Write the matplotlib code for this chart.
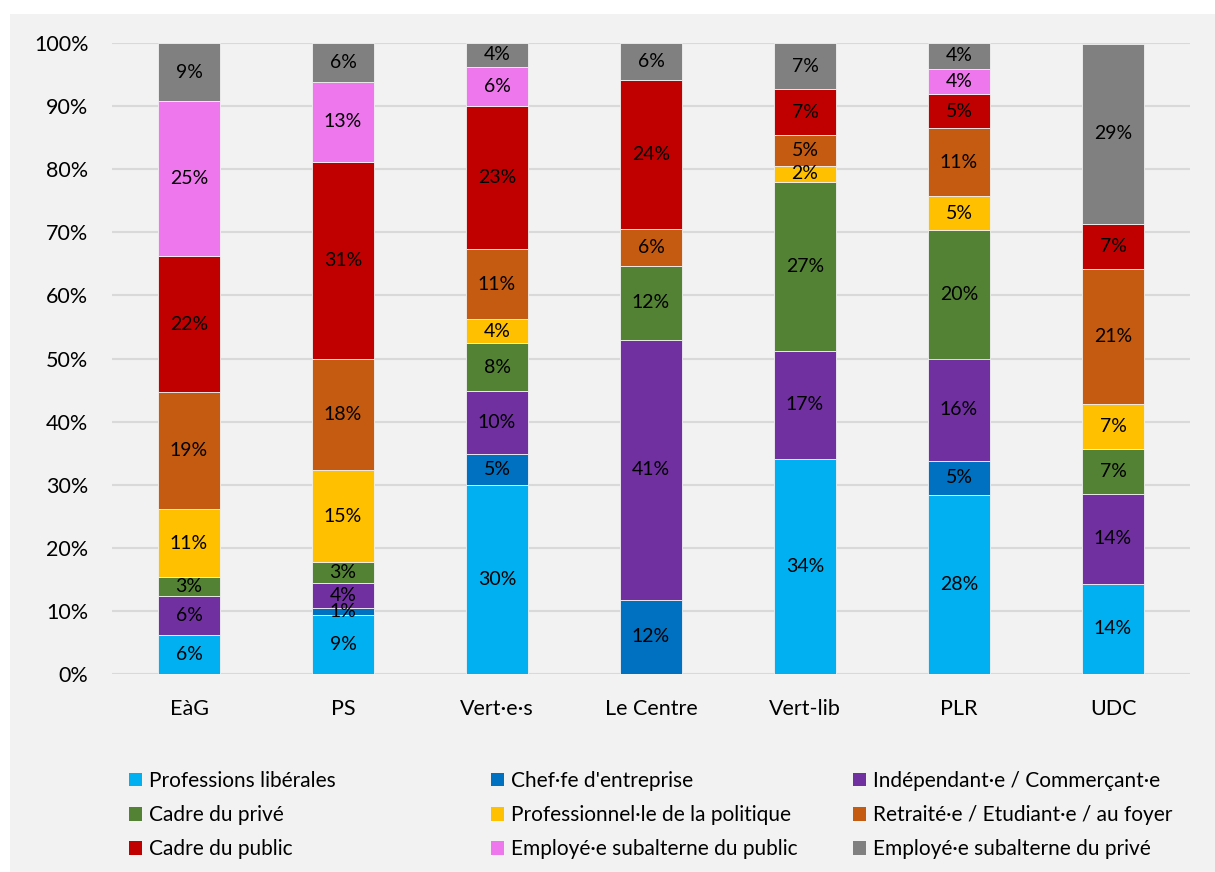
import numpy as np
import matplotlib.pyplot as plt
from matplotlib.patches import Rectangle, Patch

plt.rcParams['font.family'] = ['Lato', 'DejaVu Sans']

parties = ["EàG", "PS", "Vert·e·s", "Le Centre", "Vert-lib", "PLR", "UDC"]

categories = ["Professions libérales", "Chef·fe d'entreprise",
              "Indépendant·e / Commerçant·e", "Cadre du privé",
              "Professionnel·le de la politique",
              "Retraité·e / Etudiant·e / au foyer", "Cadre du public",
              "Employé·e subalterne du public", "Employé·e subalterne du privé"]

colors = ["#00B0F0", "#0070C0", "#7030A0", "#548235", "#FFC000",
          "#C55A11", "#C00000", "#EE77EE", "#808080"]

# share (%) per category, one value per party
prof_lib = [6.2, 9.4, 30.0, 0.0, 34.1, 28.4, 14.3]
chef = [0.0, 1.0, 4.8, 11.8, 0.0, 5.4, 0.0]
indep = [6.1, 4.1, 10.0, 41.1, 17.1, 16.2, 14.3]
cadre_prive = [3.1, 3.2, 7.6, 11.8, 26.8, 20.3, 7.1]
prof_pol = [10.7, 14.6, 3.8, 0.0, 2.5, 5.4, 7.1]
retraite = [18.6, 17.7, 11.2, 5.9, 4.9, 10.8, 21.4]
cadre_public = [21.5, 31.2, 22.6, 23.5, 7.3, 5.4, 7.1]
empl_public = [24.6, 12.6, 6.2, 0.0, 0.0, 4.0, 0.0]
empl_prive = [9.2, 6.2, 3.8, 5.9, 7.3, 4.1, 28.6]

series = [prof_lib, chef, indep, cadre_prive, prof_pol, retraite,
          cadre_public, empl_public, empl_prive]

fig = plt.figure(figsize=(12.15, 8.72), dpi=100)
fig.patch.set_facecolor("white")
fig.patches.append(Rectangle((10 / 1215, 0), 1, 1 - 14 / 872,
                             transform=fig.transFigure,
                             facecolor="#F2F2F2", edgecolor="none", zorder=-5))

ax = fig.add_axes([112 / 1215, 1 - 674 / 872, 1078 / 1215, 631 / 872])
ax.set_facecolor("none")

x = np.arange(len(parties))
bottom = np.zeros(len(parties))
for vals, col in zip(series, colors):
    vals = np.array(vals)
    ax.bar(x, vals, 0.4, bottom=bottom, color=col, edgecolor="#F2F2F2",
           linewidth=0.6, zorder=3)
    for xi, b, v in zip(x, bottom, vals):
        if v > 0:
            ax.text(xi, b + v / 2, f"{v:.0f}%", ha="center", va="center",
                    fontsize=14, color="black", zorder=4)
    bottom += vals

ax.set_xlim(-0.5, len(parties) - 0.5)
ax.set_ylim(0, 100)
ax.set_yticks(np.arange(0, 101, 10))
ax.set_yticklabels([f"{t}%" for t in range(0, 101, 10)])
ax.set_xticks(x)
ax.set_xticklabels(parties)
ax.tick_params(axis="y", length=0, pad=17, labelsize=15.5)
ax.tick_params(axis="x", length=0, pad=18, labelsize=15.5)
ax.grid(axis="y", color="#D9D9D9", linewidth=1.5, zorder=0)
for s in ax.spines.values():
    s.set_visible(False)

# legend: three columns placed like the original
col_x = [129 / 1215, 491 / 1215, 853 / 1215]
for c in range(3):
    idx = [c, c + 3, c + 6]
    handles = [Patch(facecolor=colors[i], edgecolor="none") for i in idx]
    labels = [categories[i] for i in idx]
    fig.legend(handles, labels, loc="upper left",
               bbox_to_anchor=(col_x[c], 1 - 771 / 872),
               frameon=False, fontsize=15, handlelength=0.62,
               handleheight=0.62, handletextpad=0.35, labelspacing=0.68,
               borderaxespad=0, borderpad=0)

fig.savefig("out.png", dpi=100)
